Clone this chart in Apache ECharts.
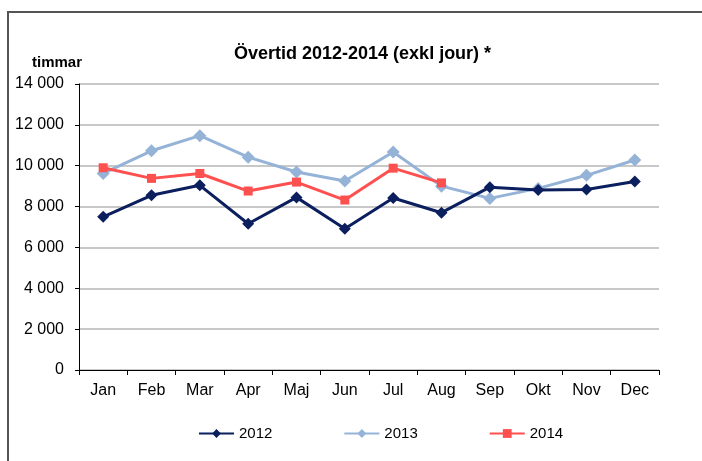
<!DOCTYPE html>
<html>
<head>
<meta charset="utf-8">
<script src="https://cdn.jsdelivr.net/npm/echarts@6/dist/echarts.min.js"></script>
<style>
html,body{margin:0;padding:0;background:#fff;}
#c{width:702px;height:461px;}
</style>
</head>
<body>
<div id="c"></div>
<script>
const months = ['Jan','Feb','Mar','Apr','Maj','Jun','Jul','Aug','Sep','Okt','Nov','Dec'];
const v2012 = [7500, 8550, 9040, 7160, 8450, 6910, 8420, 7700, 8950, 8810, 8840, 9230];
const v2013 = [9620, 10730, 11470, 10420, 9690, 9250, 10670, 9000, 8400, 8890, 9530, 10280];
const v2014 = [9900, 9380, 9620, 8760, 9200, 8320, 9880, 9160];
const yTicks = [0, 2000, 4000, 6000, 8000, 10000, 12000, 14000];

const font = '"Liberation Sans", Arial, sans-serif';
const chart = echarts.init(document.getElementById('c'));
function fmt(v){ return v === 0 ? '0' : String(v).replace(/\B(?=(\d{3})+(?!\d))/g, ' '); }

chart.setOption({
  animation: false,
  backgroundColor: '#fff',
  title: {
    text: 'Övertid 2012-2014 (exkl jour) *',
    left: 229, top: 40,
    textStyle: {fontFamily: font, fontSize: 18, fontWeight: 'bold', color: '#000'}
  },
  graphic: [
    {type: 'polyline', shape: {points: [[8, 470], [8, 12], [710, 12]]}, style: {stroke: '#555', lineWidth: 2, fill: null}},
    {type: 'text', left: 32, top: 55, style: {text: 'timmar', font: 'bold 15px ' + font, fill: '#000'}}
  ],
  legend: {
    bottom: 15, left: 193,
    itemWidth: 35, itemHeight: 11, itemGap: 71,
    textStyle: {fontFamily: font, fontSize: 15, color: '#000', padding: [0, 0, 0, 0]},
    data: ['2012', '2013', '2014']
  },
  grid: {left: 79, right: 43, top: 84, bottom: 91, containLabel: false},
  xAxis: {
    type: 'category', data: months, boundaryGap: true,
    axisLine: {lineStyle: {color: '#000', width: 1}},
    axisTick: {show: true, inside: false, length: 5, lineStyle: {color: '#000'}},
    axisLabel: {fontFamily: font, fontSize: 16, color: '#000', margin: 13}
  },
  yAxis: {
    type: 'value', min: 0, max: 14000, interval: 2000,
    axisLine: {show: true, lineStyle: {color: '#000', width: 1}},
    axisTick: {show: true, length: 4, lineStyle: {color: '#000'}},
    axisLabel: {fontFamily: font, fontSize: 16, color: '#000', margin: 15, formatter: fmt},
    splitLine: {lineStyle: {color: '#c8c8c8', width: 2}}
  },
  series: [
    {name: '2012', type: 'line', data: v2012, symbol: 'diamond', symbolSize: 12,
     lineStyle: {color: '#0b1f5e', width: 3}, itemStyle: {color: '#0b1f5e'}, z: 3},
    {name: '2013', type: 'line', data: v2013, symbol: 'diamond', symbolSize: 13,
     lineStyle: {color: '#95b3d7', width: 3}, itemStyle: {color: '#95b3d7'}, z: 2},
    {name: '2014', type: 'line', data: v2014, symbol: 'rect', symbolSize: 9,
     lineStyle: {color: '#ff5050', width: 3}, itemStyle: {color: '#ff5050'}, z: 4}
  ]
});
</script>
</body>
</html>
